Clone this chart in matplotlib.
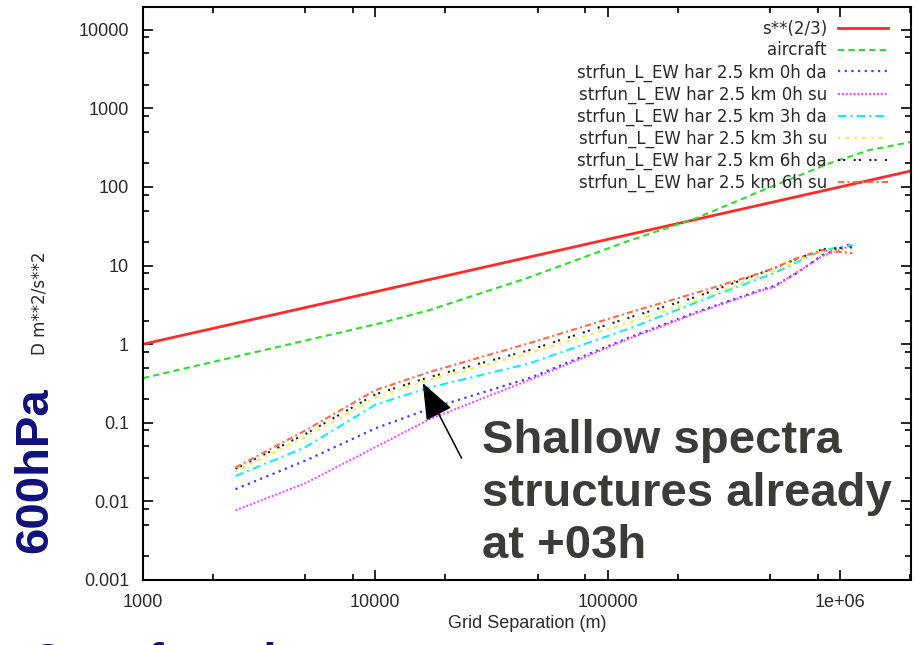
import matplotlib
matplotlib.use('Agg')
import matplotlib.pyplot as plt

plt.rcParams['font.family'] = ['Liberation Sans', 'DejaVu Sans']

## Datos
# s**(2/3) reference line (straight in log-log)
kolmo_x = [1000, 2000000]
kolmo_y = [1.0, 159.0]

aircraft_x = [1000, 3200, 10500, 17000, 46000, 125000, 240000, 465000, 900000, 1340000, 2000000]
aircraft_y = [0.37, 0.82, 1.85, 2.7, 7.1, 21, 40, 91, 200, 295, 372]

sep = [2500, 5000, 10000, 17000, 46000, 125000, 240000, 465000, 520000, 650000, 840000, 1130000]
har_0h_da = [0.0143, 0.033, 0.085, 0.15, 0.37, 1.23, 2.55, 5.0, 5.5, 8.0, 13.6, 19.3]
har_0h_su = [0.0077, 0.017, 0.049, 0.11, 0.35, 1.19, 2.48, 4.9, 5.3, 8.2, 13.2, 18.2]
har_3h_da = [0.021, 0.049, 0.17, 0.28, 0.57, 1.6, 3.4, 7.1, 8.0, 11.0, 15.7, 18.2]
har_3h_su = [0.024, 0.066, 0.21, 0.35, 0.77, 1.9, 3.6, 7.5, 8.5, 11.4, 15.2, 15.7]
har_6h_da = [0.026, 0.072, 0.23, 0.38, 0.84, 2.2, 4.0, 8.2, 9.3, 12.1, 16.2, 17.1]
har_6h_su = [0.027, 0.080, 0.26, 0.44, 1.03, 2.55, 4.5, 8.2, 9.3, 12.4, 15.7, 14.4]

x_ticks = [1000, 10000, 100000, 1000000]
x_ticklabels = ['1000', '10000', '100000', '1e+06']
y_ticks = [0.001, 0.01, 0.1, 1, 10, 100, 1000, 10000]
y_ticklabels = ['0.001', '0.01', '0.1', '1', '10', '100', '1000', '10000']
minor_mult = [2, 5, 8]

note_lines = ['Shallow spectra', 'structures already', 'at +03h']

## Figura
W, H = 917, 645
fig = plt.figure(figsize=(W / 100, H / 100), dpi=100)
ax = fig.add_axes([143 / W, 65 / H, 768 / W, 573 / H])

ax.plot(kolmo_x, kolmo_y, '-', color='#ff2a2a', lw=2.0, label='s**(2/3)')
ax.plot(aircraft_x, aircraft_y, color='#2edc2e', lw=1.5, ls=(0, (3, 2)), label='aircraft')
ax.plot(sep, har_0h_da, color='#3c3cff', lw=1.6, ls=(0, (1, 2)),
        label='strfun_L_EW har 2.5 km 0h da')
ax.plot(sep, har_0h_su, color='#ff3cff', lw=1.4, ls=(0, (1, 1)),
        label='strfun_L_EW har 2.5 km 0h su')
ax.plot(sep, har_3h_da, color='#10eeee', lw=1.5, ls=(0, (4, 2, 1, 2)),
        label='strfun_L_EW har 2.5 km 3h da')
ax.plot(sep, har_3h_su, color='#f2f23a', lw=1.5, ls=(0, (1, 2.5, 2, 2.5)),
        label='strfun_L_EW har 2.5 km 3h su')
ax.plot(sep, har_6h_da, color='#222222', lw=1.5, ls=(0, (1, 1.5, 1, 4)),
        label='strfun_L_EW har 2.5 km 6h da')
ax.plot(sep, har_6h_su, color='#ff6a4a', lw=1.5, ls=(0, (3, 1.5, 1, 1.5)),
        label='strfun_L_EW har 2.5 km 6h su')

ax.set_xscale('log')
ax.set_yscale('log')
ax.set_xlim(1000, 2.02e6)
ax.set_ylim(0.001, 1.95e4)

ax.xaxis.set_major_locator(plt.FixedLocator(x_ticks))
ax.xaxis.set_major_formatter(plt.FixedFormatter(x_ticklabels))
ax.yaxis.set_major_locator(plt.FixedLocator(y_ticks))
ax.yaxis.set_major_formatter(plt.FixedFormatter(y_ticklabels))
ax.xaxis.set_minor_locator(plt.FixedLocator([m * d for d in x_ticks + [1e7] for m in minor_mult]))
ax.yaxis.set_minor_locator(plt.FixedLocator([m * d for d in y_ticks for m in minor_mult]))
ax.xaxis.set_minor_formatter(plt.NullFormatter())
ax.yaxis.set_minor_formatter(plt.NullFormatter())

ax.tick_params(which='both', direction='in', top=True, right=True, width=1.2,
               labelsize=13, labelcolor='#2a2a2a')
ax.tick_params(which='major', length=7)
ax.tick_params(which='minor', length=4)
ax.tick_params(axis='y', pad=10)
ax.tick_params(axis='x', pad=10)
for s in ax.spines.values():
    s.set_linewidth(1.5)

ax.set_xlabel('Grid Separation (m)', fontsize=13, color='#2a2a2a', labelpad=3)
ax.set_ylabel('D m**2/s**2', fontsize=12, family='DejaVu Sans', color='#2a2a2a')
ax.yaxis.set_label_coords((49 - 143) / 768, (580 - 303) / 573)

leg = ax.legend(loc='upper right', bbox_to_anchor=(0.970, 0.978), frameon=False,
                markerfirst=False, borderaxespad=0, borderpad=0,
                prop={'family': 'DejaVu Sans', 'size': 12}, labelcolor='#2a2a2a',
                handlelength=3.0, handletextpad=0.66, labelspacing=0.23)

# flecha y texto
ax.annotate('', xy=(16000, 0.32), xytext=(23500, 0.0355),
            arrowprops=dict(arrowstyle='-|>,head_length=2.3,head_width=0.9',
                            mutation_scale=10, color='black', lw=1.1,
                            shrinkA=0, shrinkB=0))
for k, line in enumerate(note_lines):
    fig.text(482 / W, 1 - (453 + 52.5 * k) / H, line, fontsize=34, fontweight='bold',
             color='#3b3b38', va='baseline', ha='left')

fig.text(35 / W, 1 - 470 / H, '600hPa', rotation=90, fontsize=34, fontweight='bold',
         color='#10107a', ha='center', va='center')
fig.text(30 / W, 1 - 676 / H, 'Cost function', fontsize=34, fontweight='bold',
         color='#10107a', ha='left', va='baseline')

fig.savefig('out.png', dpi=100)
